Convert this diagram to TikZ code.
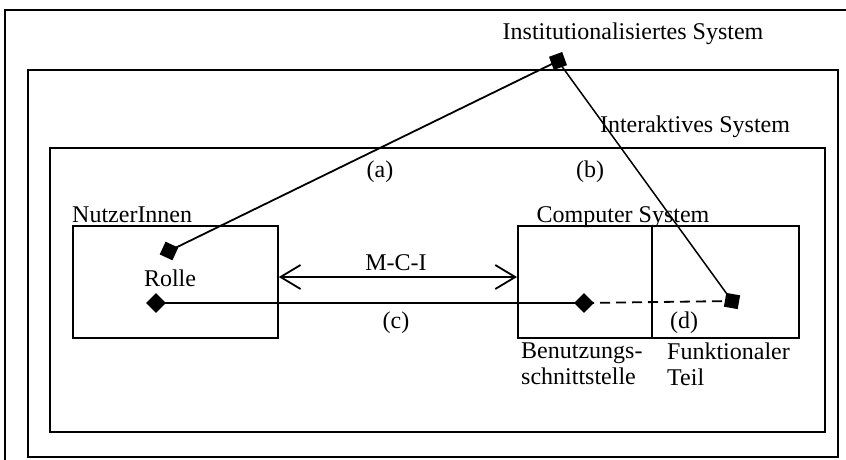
\documentclass[tikz,border=0pt]{standalone}
\usepackage{fontspec}
\setmainfont{Liberation Serif}
\usetikzlibrary{arrows.meta}
\begin{document}
\begin{tikzpicture}[x=1pt,y=-1pt,
  frame/.style={draw,line width=2pt},
  box/.style={draw,line width=1.8pt},
  lbl/.style={inner sep=0pt,font=\fontsize{24}{26}\selectfont},
  conn/.style={line width=1.8pt},
  sq/.style={fill=black,minimum size=14pt,inner sep=0pt},
  dia/.style={fill=black,minimum size=14pt,inner sep=0pt,rotate=45}]
\useasboundingbox (0,0) rectangle (846,459);
\clip (0,0) rectangle (846,459);
% frames
\draw[frame] (5,10) rectangle (860,480);
\draw[frame] (28,70) rectangle (838,457);
\draw[frame] (50,148) rectangle (825,432);
% boxes
\node[box,minimum width=205pt,minimum height=112pt,anchor=north west,inner sep=0pt] (user) at (72,225) {};
\node[box,minimum width=134pt,minimum height=112pt,anchor=north west,inner sep=0pt] (ui) at (517,225) {};
\node[box,minimum width=147pt,minimum height=112pt,anchor=north west,inner sep=0pt] (func) at (651,225) {};
% texts
\node[lbl] (inst) at (633,34) {Institutionalisiertes System};
\node[lbl] (inter) at (695,127) {Interaktives System};
\node[lbl,anchor=base west] (nutz) at (72,222) {NutzerInnen};
\node[lbl,anchor=base] (comp) at (623,222) {Computer System};
\node[lbl] (rolle) at (170,278) {Rolle};
\node[lbl] (a) at (380,172) {(a)};
\node[lbl] (b) at (590,172) {(b)};
\node[lbl] (mci) at (396,263) {M-C-I};
\node[lbl] (c) at (396,323) {(c)};
\node[lbl] (d) at (684,323) {(d)};
\node[lbl,anchor=north west,align=left] (ben) at (521,343) {Benutzungs-\\schnittstelle};
\node[lbl,anchor=north west,align=left] (fun) at (667,343) {Funktionaler\\Teil};
% markers
\node[sq,rotate=20] (top) at (558,61) {};
\node[sq,rotate=-25] (rsq) at (169,251) {};
\node[sq,rotate=-10] (fsq) at (732,301) {};
\node[dia] (rdia) at (156,303) {};
\node[dia] (udia) at (584,303) {};
% connectors
\draw[conn] (top.center) -- (rsq.center);
\draw[conn,line width=1.5pt] (top.center) -- (fsq.center);
\draw[conn] (rdia.center) -- (udia.center);
\draw[conn,dashed,dash pattern=on 10pt off 6pt] (udia.center) -- (fsq.center);
\draw[conn,{Straight Barb[length=20pt,width=24pt,line width=1.8pt]}-{Straight Barb[length=20pt,width=24pt,line width=1.8pt]}] (user.east |- 0,277) -- (ui.west |- 0,277);
\end{tikzpicture}
\end{document}
